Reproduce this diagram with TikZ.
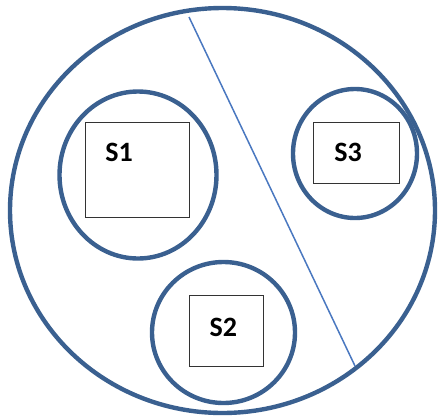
\documentclass[tikz,border=0pt]{standalone}
\usepackage{fontspec}
\setmainfont{Carlito}
\usetikzlibrary{shapes.geometric}
\definecolor{ringblue}{HTML}{3A6090}
\definecolor{lineblue}{HTML}{4A78C0}
\tikzset{
  ring/.style={ellipse, draw=ringblue, line width=4.4pt, inner sep=0pt},
  sbox/.style={rectangle, draw=black!80, line width=1pt, inner sep=0pt},
  slabel/.style={anchor=base, inner sep=0pt, font=\bfseries\fontsize{28}{28}\selectfont},
}
\begin{document}
\begin{tikzpicture}[x=1pt, y=-1pt]
  \useasboundingbox (0,0) rectangle (439,418);
  % outer ring
  \node[ring, minimum width=425pt, minimum height=405pt] (outer) at (222.5,210.5) {};
  % divider line
  \coordinate (la) at (189,17);
  \coordinate (lb) at (355,366);
  \draw[lineblue, line width=1.5pt] (la) -- (lb);
  % S1
  \node[ring, minimum width=157pt, minimum height=167pt] (c1) at (138,175) {};
  \node[sbox, minimum width=104pt, minimum height=95pt] (b1) at (137,169.5) {};
  \node[slabel] (t1) at (119,161) {S1};
  % S3
  \node[ring, minimum width=124pt, minimum height=129pt] (c3) at (355,153.5) {};
  \node[sbox, minimum width=86pt, minimum height=61pt] (b3) at (356,152.5) {};
  \node[slabel] (t3) at (348,161) {S3};
  % S2
  \node[ring, minimum width=143pt, minimum height=141pt] (c2) at (223.5,332.5) {};
  \node[sbox, minimum width=74pt, minimum height=71pt] (b2) at (226,330.5) {};
  \node[slabel] (t2) at (223.3,336) {S2};
\end{tikzpicture}
\end{document}
